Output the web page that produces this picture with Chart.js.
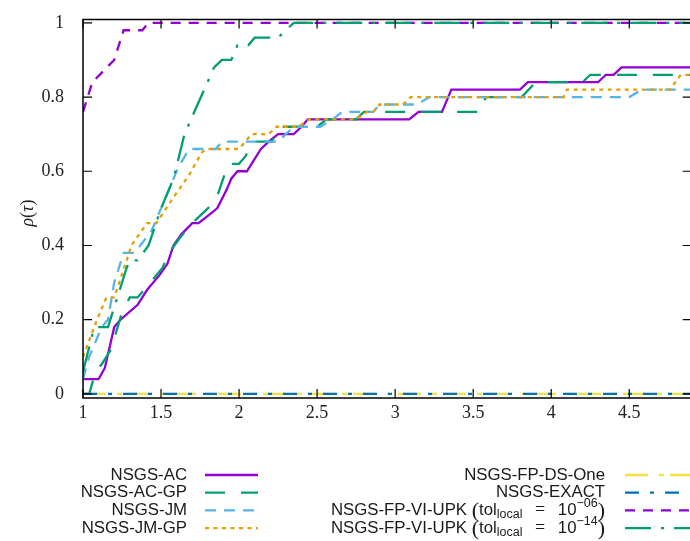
<!DOCTYPE html>
<html>
<head>
<meta charset="utf-8">
<script src="https://cdn.jsdelivr.net/npm/chart.js@4.4.1/dist/chart.umd.min.js"></script>
<style>
  html, body { margin: 0; padding: 0; background: #fff; overflow: hidden; }
  #wrap { width: 700px; height: 541px; }
</style>
</head>
<body>
<div id="wrap"><canvas id="profile" width="700" height="541"></canvas></div>
<script>
// axis ticks
const X_TICKS = [1, 1.5, 2, 2.5, 3, 3.5, 4, 4.5];
const Y_TICKS = [0, 0.2, 0.4, 0.6, 0.8, 1];

// performance profiles, [tau, rho] pairs
const NSGS_AC = [[1, 0.04], [1.1, 0.04], [1.14, 0.07], [1.2, 0.18], [1.24, 0.2], [1.35, 0.24], [1.41, 0.28],
    [1.49, 0.32], [1.54, 0.35], [1.58, 0.4], [1.63, 0.43], [1.7, 0.46], [1.74, 0.46], [1.8, 0.48], [1.86, 0.5],
    [1.92, 0.55], [1.95, 0.58], [1.99, 0.6], [2.05, 0.6], [2.08, 0.62], [2.14, 0.66], [2.19, 0.68], [2.25, 0.7],
    [2.35, 0.7], [2.4, 0.72], [2.44, 0.74], [3.09, 0.74], [3.15, 0.76], [3.3, 0.76], [3.36, 0.82], [3.8, 0.82],
    [3.85, 0.84], [4.3, 0.84], [4.35, 0.86], [4.4, 0.86], [4.45, 0.88], [4.9, 0.88]];
const NSGS_AC_GP = [[1, 0], [1.04, 0], [1.08, 0.06], [1.12, 0.08], [1.18, 0.12], [1.25, 0.22], [1.3, 0.26],
    [1.35, 0.26], [1.43, 0.3], [1.51, 0.34], [1.55, 0.38], [1.62, 0.42], [1.7, 0.46], [1.8, 0.5], [1.85, 0.52],
    [1.93, 0.62], [2.0, 0.62], [2.04, 0.64], [2.09, 0.68], [2.21, 0.68], [2.26, 0.72], [2.5, 0.72], [2.56, 0.74],
    [2.75, 0.74], [2.8, 0.76], [3.55, 0.76], [3.58, 0.8], [3.81, 0.8], [3.9, 0.84], [4.2, 0.84], [4.25, 0.86],
    [4.9, 0.86]];
const NSGS_JM = [[1, 0.04], [1.04, 0.1], [1.12, 0.18], [1.16, 0.2], [1.2, 0.3], [1.26, 0.38], [1.33, 0.38],
    [1.44, 0.44], [1.5, 0.5], [1.61, 0.61], [1.68, 0.66], [1.85, 0.66], [1.89, 0.68], [2.25, 0.68], [2.3, 0.7],
    [2.35, 0.72], [2.52, 0.72], [2.6, 0.74], [2.66, 0.76], [2.86, 0.76], [2.9, 0.78], [3.14, 0.78], [3.22, 0.8],
    [4.5, 0.8], [4.58, 0.82], [4.9, 0.82]];
const NSGS_JM_GP = [[1, 0.1], [1.09, 0.2], [1.15, 0.26], [1.2, 0.26], [1.28, 0.36], [1.31, 0.4], [1.41, 0.46],
    [1.47, 0.46], [1.58, 0.53], [1.68, 0.59], [1.76, 0.65], [1.79, 0.66], [2.0, 0.66], [2.08, 0.7], [2.19, 0.7],
    [2.24, 0.72], [2.38, 0.72], [2.45, 0.74], [2.75, 0.74], [2.82, 0.76], [2.86, 0.76], [2.9, 0.78], [3.05, 0.78],
    [3.1, 0.8], [4.08, 0.8], [4.1, 0.82], [4.76, 0.82], [4.83, 0.86], [4.9, 0.86]];
const NSGS_FP_DS_ONE = [[1, 0], [4.9, 0]];
const NSGS_EXACT = [[1, 0], [4.9, 0]];
const NSGS_VI_UPK_06 = [[1, 0.76], [1.06, 0.84], [1.2, 0.9], [1.26, 0.98], [1.38, 0.98], [1.42, 1], [4.9, 1]];
const NSGS_VI_UPK_14 = [[1, 0.06], [1.06, 0.16], [1.08, 0.18], [1.16, 0.18], [1.28, 0.34], [1.3, 0.36],
    [1.35, 0.36], [1.42, 0.4], [1.5, 0.5], [1.58, 0.58], [1.65, 0.7], [1.84, 0.88], [1.89, 0.9], [1.95, 0.9],
    [1.99, 0.94], [2.06, 0.94], [2.1, 0.96], [2.25, 0.96], [2.35, 1], [4.9, 1]];

const SANS = '"Liberation Sans", Arial, sans-serif';
const SERIF = '"Liberation Serif", "Times New Roman", serif';
const KEY_FONT = "16.8px " + SANS;

// legend texts, split where sub/superscripts are needed
function upkLabel(exp) {
    return [
        { t: "NSGS-FP-VI-UPK ", f: KEY_FONT },
        { t: "(", f: "22px " + SERIF, dy: 1 },
        { t: "tol", f: KEY_FONT },
        { t: "local", f: "12.5px " + SANS, dy: 4 },
        { t: "\u2002\u2009=\u2002\u2009", f: "18px " + SERIF },
        { t: "10", f: KEY_FONT },
        { t: exp, f: "12.5px " + SANS, dy: -7 },
        { t: ")", f: "22px " + SERIF, dy: 1 },
    ];
}

const series = [
    { label: "NSGS-AC", data: NSGS_AC, color: "#9400d3", dash: [] },
    { label: "NSGS-AC-GP", data: NSGS_AC_GP, color: "#009e73", dash: [20, 16] },
    { label: "NSGS-JM", data: NSGS_JM, color: "#56b4e9", dash: [11, 8] },
    { label: "NSGS-JM-GP", data: NSGS_JM_GP, color: "#e69f00", dash: [4, 4.5] },
    { label: "NSGS-FP-DS-One", data: NSGS_FP_DS_ONE, color: "#f0e442", dash: [23, 11, 5, 6] },
    { label: "NSGS-EXACT", data: NSGS_EXACT, color: "#0072b2", dash: [14, 11, 4, 11] },
    { label: upkLabel("\u221206"), data: NSGS_VI_UPK_06, color: "#9400d3", dash: [10, 8] },
    { label: upkLabel("\u221214"), data: NSGS_VI_UPK_14, color: "#009e73", dash: [26, 10, 3, 10] },
];

const datasets = series.map((s, i) => ({
    label: typeof s.label === "string" ? s.label : s.label.map((p) => p.t).join(""),
    richLabel: s.label,
    data: s.data.map(([x, y]) => ({ x: x, y: y })),
    borderColor: s.color,
    backgroundColor: s.color,
    borderDash: s.dash,
    borderWidth: 2.3,
    pointRadius: 0,
    tension: 0,
    fill: false,
    order: series.length - 1 - i,
}));

// frame with inward ticks, y title, gnuplot style key
const gnuplotLook = {
    id: "gnuplotLook",
    afterDraw(chart) {
        const ctx = chart.ctx;
        const { left, right, top, bottom } = chart.chartArea;
        const xs = chart.scales.x, ys = chart.scales.y;
        ctx.save();
        ctx.strokeStyle = "#000";
        ctx.lineWidth = 1.5;
        ctx.setLineDash([]);
        ctx.strokeRect(left, top, right - left, bottom - top);
        ctx.lineWidth = 1.2;
        ctx.beginPath();
        X_TICKS.forEach((v) => {
            const px = xs.getPixelForValue(v);
            ctx.moveTo(px, bottom); ctx.lineTo(px, bottom - 9);
            ctx.moveTo(px, top); ctx.lineTo(px, top + 9);
        });
        Y_TICKS.forEach((v) => {
            const py = ys.getPixelForValue(v);
            ctx.moveTo(left, py); ctx.lineTo(left + 9, py);
            ctx.moveTo(right, py); ctx.lineTo(right - 9, py);
        });
        ctx.stroke();

        // y axis title rho(tau)
        ctx.translate(28, 213);
        ctx.rotate(-Math.PI / 2);
        ctx.fillStyle = "#222";
        ctx.textBaseline = "middle";
        const parts = [
            { t: "\u03c1", f: "italic 18px " + SERIF },
            { t: "(", f: "18px " + SERIF },
            { t: "\u03c4", f: "italic 18px " + SERIF },
            { t: ")", f: "18px " + SERIF },
        ];
        let w = 0;
        parts.forEach((p) => { ctx.font = p.f; w += ctx.measureText(p.t).width; });
        let cx = -w / 2;
        parts.forEach((p) => { ctx.font = p.f; ctx.fillText(p.t, cx, 0); cx += ctx.measureText(p.t).width; });
        ctx.restore();

        // key
        ctx.save();
        ctx.textBaseline = "middle";
        chart.data.datasets.forEach((ds, i) => {
            const col = i < 4 ? 0 : 1;
            const row = i % 4;
            const y = 475 + row * 17.7;
            const textRight = col ? 605 : 187;
            const x1 = col ? 625 : 205, x2 = col ? 702 : 258;
            const rich = typeof ds.richLabel === "string" ? [{ t: ds.richLabel, f: KEY_FONT }] : ds.richLabel;
            let total = 0;
            rich.forEach((p) => { ctx.font = p.f; total += ctx.measureText(p.t).width; });
            let tx = textRight - total;
            ctx.fillStyle = "#1a1a1a";
            rich.forEach((p) => {
                ctx.font = p.f;
                ctx.fillText(p.t, tx, y + (p.dy || 0));
                tx += ctx.measureText(p.t).width;
            });
            ctx.strokeStyle = ds.borderColor;
            ctx.lineWidth = ds.borderWidth;
            ctx.setLineDash(ds.borderDash);
            ctx.beginPath();
            ctx.moveTo(x1, y);
            ctx.lineTo(x2, y);
            ctx.stroke();
        });
        ctx.restore();
    },
};

new Chart(document.getElementById("profile").getContext("2d"), {
    type: "line",
    data: { datasets: datasets },
    plugins: [gnuplotLook],
    options: {
        responsive: false,
        animation: false,
        devicePixelRatio: 1,
        layout: { padding: { top: 19.5, right: 8.3, left: 0, bottom: 0 } },
        plugins: { legend: { display: false }, tooltip: { enabled: false } },
        scales: {
            x: {
                type: "linear",
                min: 1,
                max: 4.9,
                grid: { display: false, drawTicks: false },
                border: { display: false },
                afterBuildTicks: (s) => { s.ticks = X_TICKS.map((v) => ({ value: v })); },
                afterFit: (s) => { s.height = 143; s.paddingLeft = 0; s.paddingRight = 0; },
                ticks: {
                    autoSkip: false,
                    maxRotation: 0,
                    padding: 4,
                    color: "#222",
                    font: { family: SERIF, size: 18 },
                    callback: (v) => String(v),
                },
            },
            y: {
                type: "linear",
                min: -0.011,
                max: 1.009,
                grid: { display: false, drawTicks: false },
                border: { display: false },
                afterBuildTicks: (s) => { s.ticks = Y_TICKS.map((v) => ({ value: v })); },
                afterFit: (s) => { s.width = 83; s.paddingTop = 0; s.paddingBottom = 0; },
                ticks: {
                    autoSkip: false,
                    padding: 19,
                    color: "#222",
                    font: { family: SERIF, size: 18 },
                    callback: (v) => String(v),
                },
            },
        },
    },
});
</script>
</body>
</html>
